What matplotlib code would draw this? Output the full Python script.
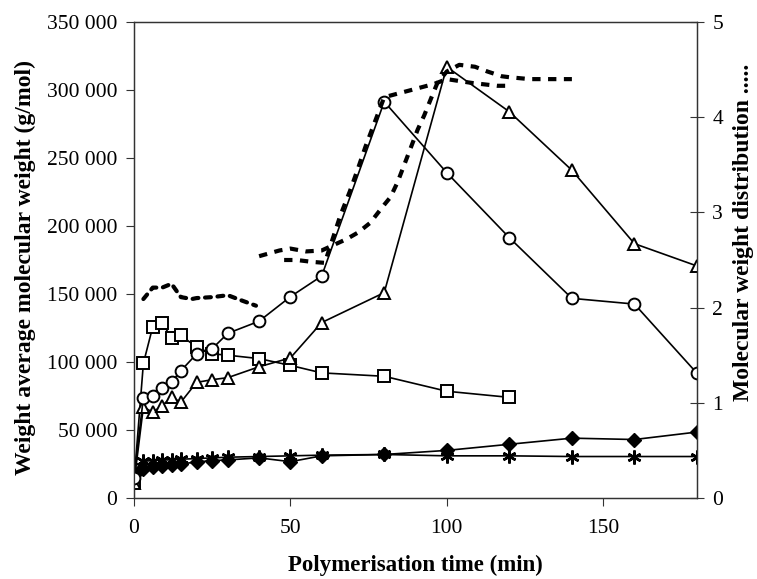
import matplotlib
matplotlib.use("Agg")
import matplotlib.pyplot as plt
from matplotlib.ticker import FuncFormatter

plt.rcParams['font.family'] = ['Liberation Serif', 'DejaVu Serif']

# ---- data ----
t_full = [0, 3, 6, 9, 12, 15, 20, 25, 30, 40, 50, 60, 80, 100, 120, 140, 160, 180]
t_sq = [0, 3, 6, 9, 12, 15, 20, 25, 30, 40, 50, 60, 80, 100, 120]

mw_circle = [15000, 73800, 75200, 80600, 85300, 93600, 105900, 109800, 121100, 130000,
             148000, 163200, 291400, 239200, 191400, 146800, 142600, 91700]
mw_triangle = [11000, 67000, 63000, 68000, 74000, 70500, 85000, 87000, 88500, 96500,
               103000, 129000, 151000, 317000, 284000, 241000, 187000, 170600]
mw_square = [12000, 99000, 126000, 128500, 118000, 119500, 111000, 106000, 105000,
             102500, 97500, 92000, 89500, 78500, 74000]
mw_diamond = [17000, 21000, 22500, 23500, 24000, 25000, 26500, 27500, 28000, 29500,
              26700, 31000, 32000, 35000, 39500, 44000, 43000, 48500]
mw_star = [20000, 27000, 27500, 28000, 28000, 28500, 29000, 29500, 30000, 30500,
           31000, 31500, 32000, 31000, 31000, 30500, 30500, 30500]

# molecular weight distribution curves (right axis)
t_mwd_a = [3, 6, 9, 12, 15, 18.5, 20, 25, 30, 34, 39]
mwd_a = [2.09, 2.21, 2.21, 2.25, 2.11, 2.09, 2.10, 2.11, 2.13, 2.08, 2.02]

t_mwd_b = [48, 52, 57, 61, 63.5, 66, 69, 71.5, 74, 77, 80, 88, 96, 100, 108, 116, 119]
mwd_b = [2.50, 2.50, 2.48, 2.47, 2.72, 2.97, 3.22, 3.45, 3.69, 3.95, 4.21, 4.28, 4.35,
         4.40, 4.36, 4.33, 4.33]

t_mwd_c = [40, 46.5, 50, 55, 60, 64, 68, 71.7, 75.5, 80, 82, 84.3, 86.4, 88.5, 90.7,
           92.8, 95, 97, 100, 104, 109, 113, 117.6, 120, 126.5, 133, 140]
mwd_c = [2.54, 2.60, 2.62, 2.59, 2.60, 2.66, 2.72, 2.79, 2.89, 3.08, 3.16, 3.32, 3.50,
         3.68, 3.87, 4.02, 4.20, 4.36, 4.48, 4.55, 4.53, 4.48, 4.43, 4.42, 4.40, 4.40, 4.40]

x_ticks = [0, 50, 100, 150]
y_ticks = [0, 50000, 100000, 150000, 200000, 250000, 300000, 350000]
y2_ticks = [0, 1, 2, 3, 4, 5]

# ---- figure ----
W, H = 757, 579
fig = plt.figure(figsize=(W / 100, H / 100), dpi=100)
ax = fig.add_axes([134 / W, 1 - 498 / H, (697 - 134) / W, (498 - 22) / H])
ax2 = ax.twinx()

ms = 8.5
lw = 1.2
ax.plot(t_full, mw_star, color='black', lw=lw, marker=(6, 2, 0), ms=10, mew=1.8,
        zorder=3)
ax.plot(t_full, mw_diamond, color='black', lw=lw, marker='D', ms=7, mfc='black',
        zorder=3)
ax.plot(t_sq, mw_square, color='black', lw=lw, marker='s', ms=ms, mfc='white',
        mew=1.4, zorder=4)
ax.plot(t_full, mw_triangle, color='black', lw=lw, marker='^', ms=ms + 0.5,
        mfc='white', mew=1.4, zorder=4)
ax.plot(t_full, mw_circle, color='black', lw=lw, marker='o', ms=ms, mfc='white',
        mew=1.4, zorder=5)

ax2.plot(t_mwd_a, mwd_a, color='black', lw=3.0, linestyle=(0, (1.4, 1.6)),
         dash_capstyle='round')
ax2.plot(t_mwd_b, mwd_b, color='black', lw=3.0, linestyle=(0, (2.0, 1.8)),
         dash_capstyle='butt')
ax2.plot(t_mwd_c, mwd_c, color='black', lw=3.0, linestyle=(0, (2.0, 1.8)),
         dash_capstyle='butt')

ax.set_xlim(0, 180)
ax.set_ylim(0, 350000)
ax2.set_ylim(0, 5)
ax.set_xticks(x_ticks)
ax.set_yticks(y_ticks)
ax2.set_yticks(y2_ticks)
ax.yaxis.set_major_formatter(FuncFormatter(lambda v, p: f"{int(v):,}".replace(",", " ")))

for a in (ax, ax2):
    for s in a.spines.values():
        s.set_linewidth(0.9)
        s.set_color('#333333')

ax.tick_params(axis='both', labelsize=15.5, direction='out', length=6, width=0.8,
               colors='#333333', labelcolor='black')
ax.tick_params(axis='x', pad=9)
ax.tick_params(axis='y', pad=6)
ax2.tick_params(axis='y', labelsize=15.5, direction='inout', length=10, width=0.8,
                colors='#333333', labelcolor='black', pad=6)

ax.set_xlabel('Polymerisation time (min)', fontsize=16.5, fontweight='bold',
              labelpad=12)
fig.text(25 / W, 1 - 268 / H, 'Weight average molecular weight (g/mol)', fontsize=17,
         fontweight='bold', rotation=90, ha='center', va='center')
fig.text(744 / W, 1 - 232 / H, 'Molecular weight distribution .....', fontsize=17,
         fontweight='bold', rotation=90, ha='center', va='center')

fig.savefig('out.png', dpi=100)
